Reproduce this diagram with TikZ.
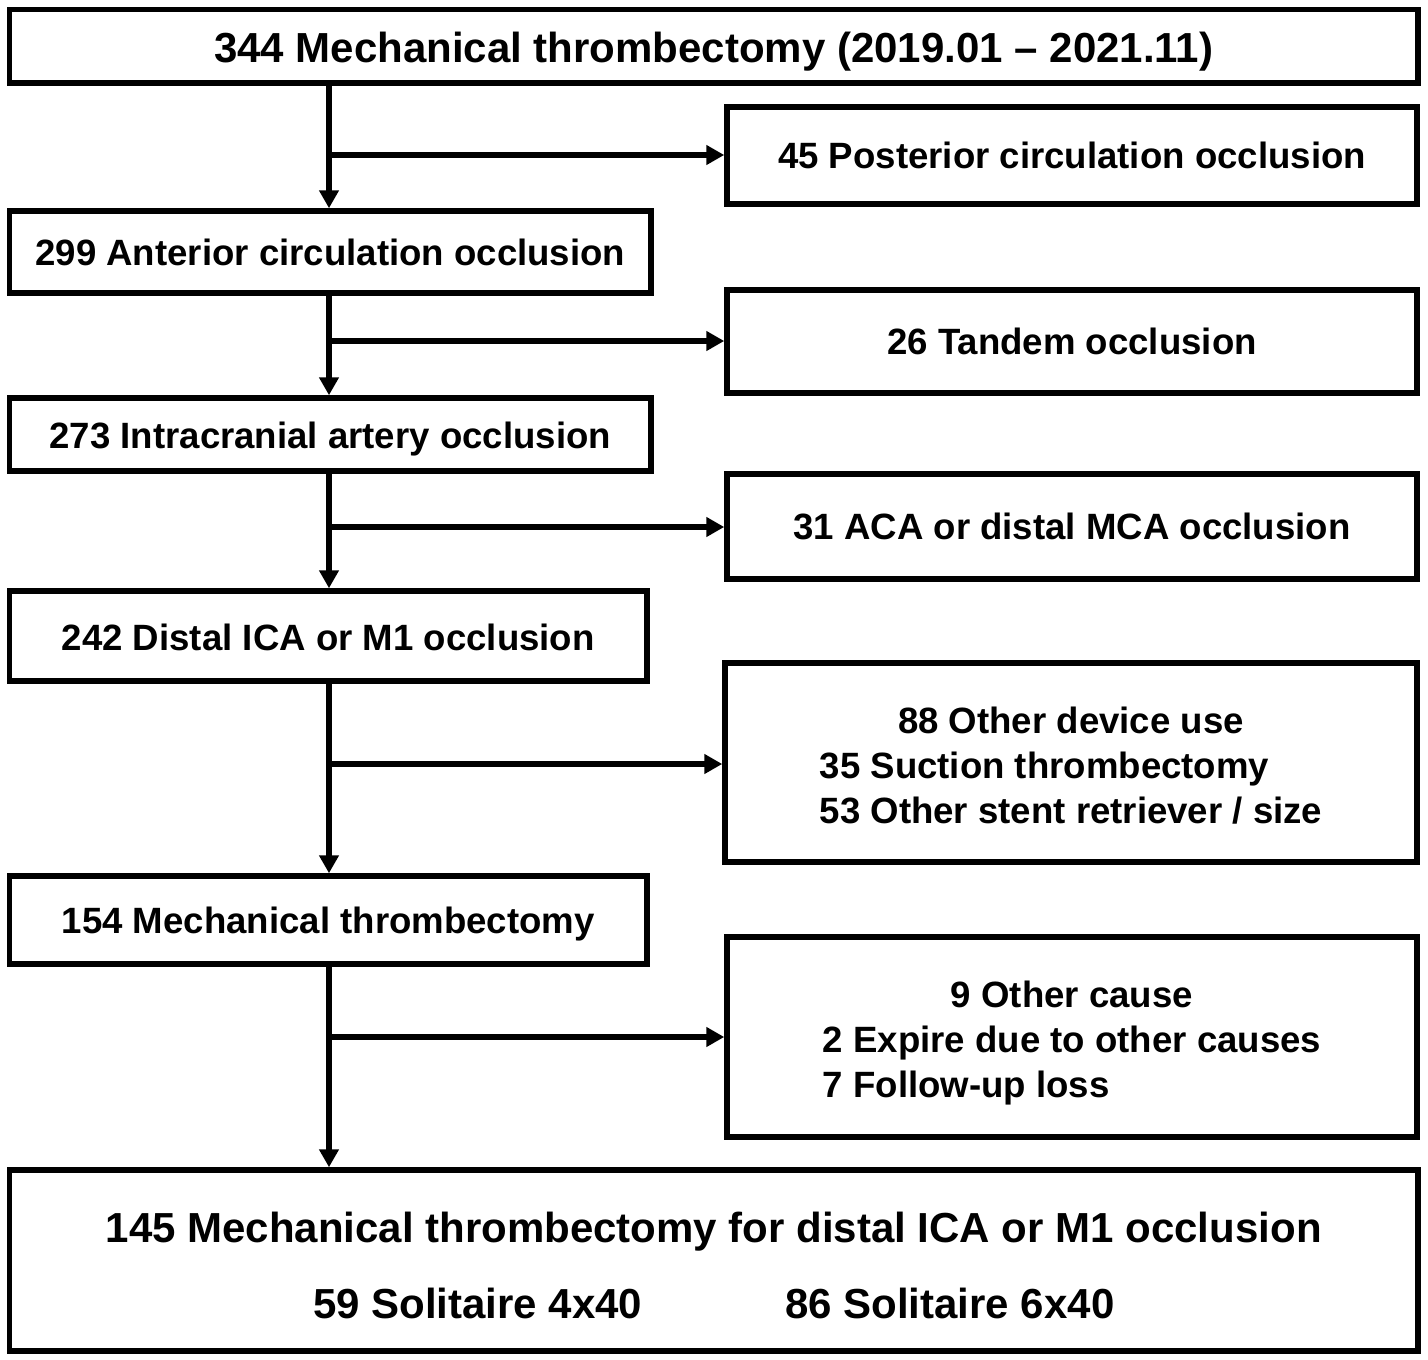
\documentclass[tikz,border=0pt]{standalone}
\usepackage{fontspec}
\setmainfont{Liberation Sans}
\usetikzlibrary{arrows.meta}

\newcommand{\shiftdown}[2]{\raisebox{-#1}[\height][\depth]{#2}}

\tikzset{
  box/.style={draw, line width=5.5pt, inner sep=0pt, align=center,
    font=\fontsize{36.6}{44.7}\selectfont\bfseries},
  bigbox/.style={box, font=\fontsize{42}{50}\selectfont\bfseries},
  arr/.style={line width=5.5pt, -{Triangle[length=18pt,width=19pt]}},
}

\begin{document}
\begin{tikzpicture}[x=1pt,y=-1pt]
\useasboundingbox (0,0) rectangle (1428,1360);
% main column
\node[bigbox, minimum width=1408.5pt, minimum height=73.5pt] (all) at (713.75,46.25) {\shiftdown{5pt}{344 Mechanical thrombectomy (2019.01 – 2021.11)}};
\node[box, minimum width=641.5pt, minimum height=82pt] (ant) at (330.25,252) {299 Anterior circulation occlusion};
\node[box, minimum width=641.5pt, minimum height=73pt] (intra) at (330.25,434.5) {\shiftdown{5pt}{273 Intracranial artery occlusion}};
\node[box, minimum width=637.5pt, minimum height=90pt] (dist) at (328.25,636) {\shiftdown{1pt}{242 Distal ICA or M1 occlusion}};
\node[box, minimum width=637.5pt, minimum height=88pt] (mt) at (328.25,920) {\shiftdown{4pt}{154 Mechanical thrombectomy}};
\node[bigbox, minimum width=1408.5pt, minimum height=181pt] (final) at (713.75,1260.5) {\shiftdown{10pt}{\begin{tabular}{@{}c@{}}145 Mechanical thrombectomy for distal ICA or M1 occlusion\\[26pt]59 Solitaire 4x40\hspace{143pt}86 Solitaire 6x40\end{tabular}}};
% excluded
\node[box, minimum width=690pt, minimum height=97pt] (post) at (1072,155.5) {45 Posterior circulation occlusion};
\node[box, minimum width=690pt, minimum height=103pt] (tandem) at (1072,341.5) {26 Tandem occlusion};
\node[box, minimum width=690pt, minimum height=105pt] (aca) at (1072,526.5) {31 ACA or distal MCA occlusion};
\node[box, minimum width=692pt, minimum height=199pt] (device) at (1071,762.5) {\shiftdown{7pt}{\begin{tabular}{@{}l@{}}\multicolumn{1}{@{}c@{}}{88 Other device use}\\35 Suction thrombectomy\\53 Other stent retriever / size\end{tabular}}};
\node[box, minimum width=690pt, minimum height=200pt] (cause) at (1072,1037) {\shiftdown{6.5pt}{\begin{tabular}{@{}l@{}}\multicolumn{1}{@{}c@{}}{9 Other cause}\\2 Expire due to other causes\\7 Follow-up loss\end{tabular}}};
% junctions on the trunk
\coordinate (j1) at (329,155);
\coordinate (j2) at (329,341);
\coordinate (j3) at (329,527);
\coordinate (j4) at (329,764);
\coordinate (j5) at (329,1037);
\foreach \a/\b in {all/ant,ant/intra,intra/dist,dist/mt,mt/final}
  \draw[arr] (\a.south -| j1) -- (\b.north -| j1);
\foreach \j/\c in {j1/post,j2/tandem,j3/aca,j4/device,j5/cause}
  \draw[arr] (\j) -- (\j -| \c.west);
\end{tikzpicture}
\end{document}
